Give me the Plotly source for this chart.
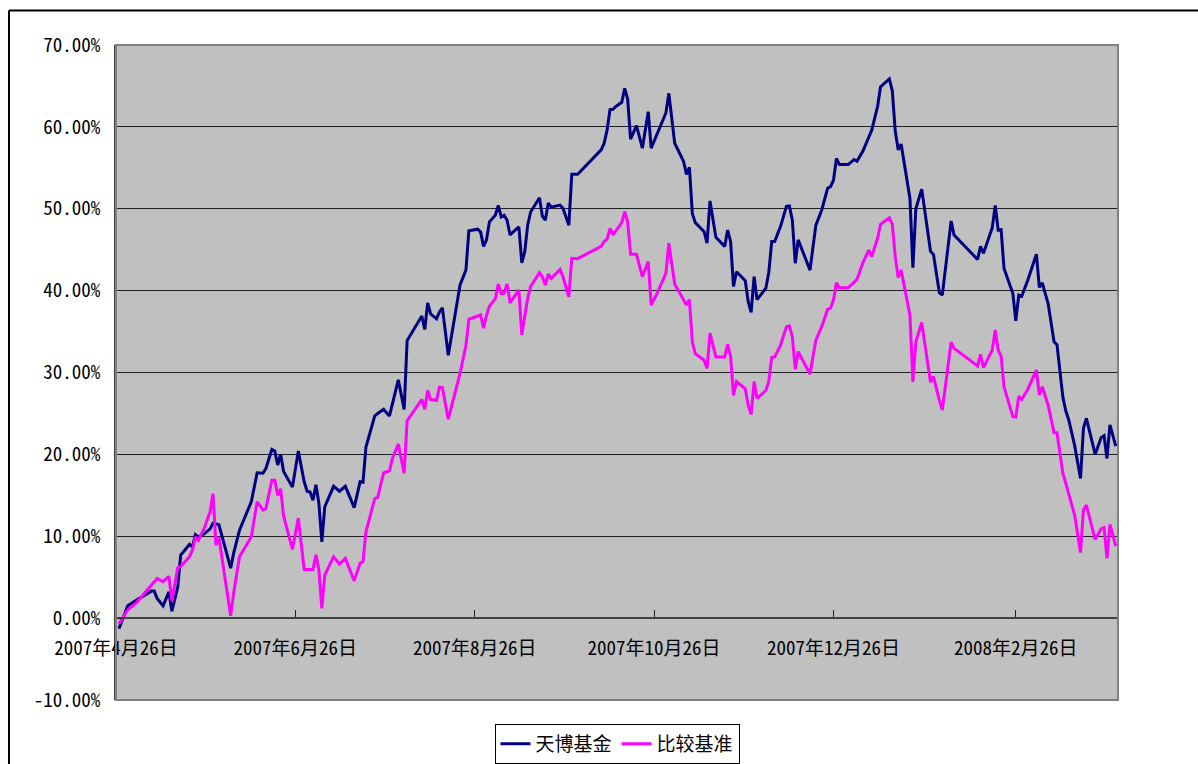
import plotly.graph_objects as go

dates = [
    "2007-04-27", "2007-04-30", "2007-05-03", "2007-05-08", "2007-05-09", "2007-05-10", "2007-05-12",
    "2007-05-14", "2007-05-15", "2007-05-17", "2007-05-18", "2007-05-21", "2007-05-22", "2007-05-23",
    "2007-05-24", "2007-05-26", "2007-05-28", "2007-05-29", "2007-05-30", "2007-05-31", "2007-06-04",
    "2007-06-05", "2007-06-07", "2007-06-11", "2007-06-13", "2007-06-15", "2007-06-16", "2007-06-18",
    "2007-06-19", "2007-06-20", "2007-06-21", "2007-06-22", "2007-06-25", "2007-06-27", "2007-06-29",
    "2007-06-30", "2007-07-01", "2007-07-02", "2007-07-03", "2007-07-04", "2007-07-05", "2007-07-06",
    "2007-07-09", "2007-07-11", "2007-07-13", "2007-07-16", "2007-07-18", "2007-07-19", "2007-07-20",
    "2007-07-23", "2007-07-24", "2007-07-26", "2007-07-28", "2007-07-29", "2007-07-31", "2007-08-02",
    "2007-08-03", "2007-08-08", "2007-08-09", "2007-08-10", "2007-08-11", "2007-08-13", "2007-08-14",
    "2007-08-15", "2007-08-17", "2007-08-21", "2007-08-23", "2007-08-24", "2007-08-27", "2007-08-28",
    "2007-08-29", "2007-08-30", "2007-08-31", "2007-09-02", "2007-09-03", "2007-09-04", "2007-09-05",
    "2007-09-06", "2007-09-07", "2007-09-10", "2007-09-11", "2007-09-12", "2007-09-13", "2007-09-14",
    "2007-09-17", "2007-09-18", "2007-09-19", "2007-09-20", "2007-09-21", "2007-09-24", "2007-09-25",
    "2007-09-27", "2007-09-28", "2007-09-30", "2007-10-08", "2007-10-09", "2007-10-10", "2007-10-11",
    "2007-10-12", "2007-10-13", "2007-10-15", "2007-10-16", "2007-10-17", "2007-10-18", "2007-10-20",
    "2007-10-22", "2007-10-24", "2007-10-25", "2007-10-27", "2007-10-30", "2007-10-31", "2007-11-02",
    "2007-11-05", "2007-11-06", "2007-11-07", "2007-11-08", "2007-11-09", "2007-11-12", "2007-11-13",
    "2007-11-14", "2007-11-16", "2007-11-19", "2007-11-20", "2007-11-21", "2007-11-22", "2007-11-23",
    "2007-11-26", "2007-11-27", "2007-11-28", "2007-11-29", "2007-11-30", "2007-12-03", "2007-12-04",
    "2007-12-05", "2007-12-06", "2007-12-08", "2007-12-10", "2007-12-11", "2007-12-12", "2007-12-13",
    "2007-12-14", "2007-12-18", "2007-12-20", "2007-12-22", "2007-12-24", "2007-12-25", "2007-12-26",
    "2007-12-27", "2007-12-28", "2007-12-31", "2008-01-02", "2008-01-03", "2008-01-05", "2008-01-07",
    "2008-01-08", "2008-01-10", "2008-01-11", "2008-01-14", "2008-01-15", "2008-01-16", "2008-01-17",
    "2008-01-18", "2008-01-21", "2008-01-22", "2008-01-23", "2008-01-25", "2008-01-28", "2008-01-29",
    "2008-01-31", "2008-02-01", "2008-02-04", "2008-02-05", "2008-02-13", "2008-02-14", "2008-02-15",
    "2008-02-18", "2008-02-19", "2008-02-20", "2008-02-21", "2008-02-22", "2008-02-25", "2008-02-26",
    "2008-02-27", "2008-02-28", "2008-03-01", "2008-03-04", "2008-03-05", "2008-03-06", "2008-03-08",
    "2008-03-10", "2008-03-11", "2008-03-13", "2008-03-14", "2008-03-15", "2008-03-17", "2008-03-19",
    "2008-03-20", "2008-03-21", "2008-03-24", "2008-03-26", "2008-03-27", "2008-03-28", "2008-03-29",
    "2008-03-31",
]

# 天博基金 (%)
fund = [
    -1.3, 1.5, 2.2, 3.3, 3.3, 2.4, 1.5,
    3.2, 0.85, 3.8, 7.7, 9.0, 8.7, 10.2,
    9.9, 10.3, 10.9, 11.6, 11.5, 11.4, 6.1,
    7.9, 10.75, 14.2, 17.75, 17.7, 18.3, 20.6,
    20.4, 18.7, 20.0, 17.9, 16.0, 20.4, 16.65,
    15.5, 15.4, 14.4, 16.3, 14.0, 9.3, 13.6,
    16.1, 15.5, 16.1, 13.5, 16.65, 16.6, 20.9,
    24.7, 25.0, 25.5, 24.7, 26.1, 29.1, 25.5,
    33.9, 36.9, 35.25, 38.5, 37.15, 36.55, 37.4,
    37.9, 32.1, 40.7, 42.5, 47.3, 47.5, 47.15,
    45.4, 46.2, 48.4, 49.2, 50.4, 49.0, 49.2,
    48.6, 46.8, 47.8, 43.4, 44.75, 48.0, 49.6,
    51.35, 49.1, 48.6, 50.7, 50.2, 50.45, 50.05,
    48.0, 54.2, 54.2, 57.2, 58.0, 59.6, 62.1,
    62.15, 62.5, 63.0, 64.7, 63.4, 58.5, 60.15,
    57.4, 61.85, 57.4, 59.1, 61.7, 64.1, 58.0,
    55.8, 54.2, 55.05, 49.4, 48.3, 47.2, 45.8,
    50.95, 46.5, 45.4, 47.4, 46.0, 40.5, 42.3,
    41.2, 38.65, 37.35, 41.7, 38.9, 40.3, 42.25,
    46.0, 46.0, 47.85, 50.3, 50.35, 48.6, 43.35,
    46.2, 42.5, 48.0, 49.85, 52.5, 52.7, 53.5,
    56.15, 55.4, 55.4, 56.0, 55.8, 57.05, 58.8,
    59.6, 62.5, 64.9, 65.85, 64.4, 59.5, 57.2,
    57.9, 51.25, 42.8, 50.0, 52.4, 44.8, 44.4,
    39.75, 39.45, 48.5, 46.8, 43.8, 45.4, 44.55,
    47.7, 50.4, 47.4, 47.45, 42.7, 39.65, 36.3,
    39.45, 39.3, 41.2, 44.45, 40.4, 40.95, 38.4,
    33.75, 33.4, 27.0, 25.3, 24.2, 21.1, 17.05,
    23.2, 24.4, 20.0, 22.05, 22.3, 19.5, 23.6,
    21.0,
]

# 比较基准 (%)
benchmark = [
    -0.7, 1.0, 1.9, 4.0, 4.4, 4.85, 4.45,
    5.1, 2.1, 6.15, 6.3, 7.5, 8.3, 9.9,
    9.5, 10.95, 13.0, 15.2, 8.9, 9.85, 0.3,
    3.0, 7.5, 9.9, 14.2, 13.2, 13.4, 16.85,
    16.85, 15.0, 15.8, 12.45, 8.4, 12.2, 5.95,
    5.95, 5.95, 5.95, 7.75, 5.85, 1.2, 5.25,
    7.5, 6.6, 7.3, 4.55, 6.7, 6.9, 10.55,
    14.6, 14.75, 17.75, 18.0, 19.5, 21.25, 17.7,
    24.1, 26.7, 25.5, 27.8, 26.7, 26.6, 28.2,
    28.15, 24.3, 29.9, 33.3, 36.5, 36.9, 37.05,
    35.4, 37.0, 38.1, 39.0, 40.8, 39.65, 39.7,
    40.8, 38.5, 40.1, 34.6, 37.0, 39.05, 40.5,
    42.2, 41.7, 40.7, 42.0, 41.5, 42.6, 41.7,
    39.25, 43.95, 43.9, 45.4, 46.0, 46.3, 47.6,
    46.8, 47.3, 48.3, 49.65, 48.4, 44.45, 44.45,
    41.7, 43.55, 38.25, 39.65, 42.1, 45.8, 40.8,
    38.9, 38.25, 38.9, 33.75, 32.3, 31.5, 30.5,
    34.8, 31.9, 31.9, 33.45, 32.0, 27.2, 28.9,
    28.0, 26.0, 24.9, 28.9, 26.85, 27.8, 28.9,
    31.85, 31.9, 33.35, 35.6, 35.7, 34.4, 30.4,
    32.55, 29.8, 33.95, 35.6, 37.7, 37.85, 38.85,
    40.95, 40.35, 40.35, 41.0, 41.4, 43.4, 44.95,
    44.15, 46.4, 48.1, 48.9, 48.1, 44.15, 41.6,
    42.5, 37.0, 28.85, 33.75, 36.1, 28.8, 29.5,
    26.6, 25.4, 33.7, 32.95, 30.8, 32.2, 30.6,
    32.75, 35.2, 32.75, 32.0, 28.25, 24.6, 24.55,
    27.1, 26.7, 27.9, 30.3, 27.25, 28.25, 26.0,
    22.65, 22.65, 17.7, 16.45, 15.2, 12.6, 8.0,
    13.2, 13.8, 9.6, 10.9, 11.05, 7.3, 11.45,
    8.8,
]

series_names = ["天博基金", "比较基准"]

x_tick_vals = ["2007-04-26", "2007-06-26", "2007-08-26", "2007-10-26", "2007-12-26", "2008-02-26"]
x_tick_text = ["2007年4月26日", "2007年6月26日", "2007年8月26日", "2007年10月26日", "2007年12月26日", "2008年2月26日"]
y_tick_vals = [-10, 0, 10, 20, 30, 40, 50, 60, 70]
y_tick_text = ["-10.00%", "0.00%", "10.00%", "20.00%", "30.00%", "40.00%", "50.00%", "60.00%", "70.00%"]

FONT = "Noto Sans Mono CJK SC, Noto Sans CJK SC, DejaVu Sans Mono, sans-serif"

fig = go.Figure()
fig.add_trace(go.Scatter(x=dates, y=fund, mode="lines", name=series_names[0],
                         line=dict(color="#000080", width=3)))
fig.add_trace(go.Scatter(x=dates, y=benchmark, mode="lines", name=series_names[1],
                         line=dict(color="#FF00FF", width=3)))

fig.update_layout(
    width=1198, height=764,
    margin=dict(l=116, r=80, t=45, b=64, autoexpand=False),
    paper_bgcolor="white",
    plot_bgcolor="#C0C0C0",
    font=dict(family=FONT, size=19, color="black"),
    showlegend=True,
    legend=dict(orientation="h", x=0.5, xanchor="center", y=-0.067, yanchor="middle",
                bordercolor="black", borderwidth=1, bgcolor="white",
                font=dict(family=FONT, size=19), itemwidth=30),
    xaxis=dict(type="date", range=["2007-04-26", "2008-03-31 18:00"],
               tickmode="array", tickvals=x_tick_vals, ticktext=x_tick_text,
               showgrid=False, zeroline=False,
               showline=True, linecolor="#404040", linewidth=2,
               ticks="inside", ticklen=7, tickwidth=1, tickcolor="#202020",
               anchor="free", position=0.125, ticklabelstandoff=13,
               tickfont=dict(family=FONT, size=19)),
    yaxis=dict(range=[-10, 70], tickmode="array", tickvals=y_tick_vals, ticktext=y_tick_text,
               showgrid=True, gridcolor="#202020", gridwidth=1, zeroline=False,
               showline=True, linecolor="#404040", linewidth=2,
               ticks="inside", ticklen=6, tickcolor="#202020",
               ticklabelstandoff=10,
               tickfont=dict(family=FONT, size=19)),
)

# plot-area border
fig.add_shape(type="rect", xref="paper", yref="paper", x0=0, y0=0, x1=1, y1=1,
              line=dict(color="#808080", width=2), layer="above")
# outer chart frame (top and left edges visible)
fig.add_shape(type="line", xref="paper", yref="paper", x0=-0.1068, y0=1.0527, x1=1.09, y1=1.0527,
              line=dict(color="black", width=2))
fig.add_shape(type="line", xref="paper", yref="paper", x0=-0.1068, y0=1.0527, x1=-0.1068, y1=-0.11,
              line=dict(color="black", width=2))

fig.write_html("out.html", config={"displayModeBar": False},
               post_script="document.body.style.margin='0';")
